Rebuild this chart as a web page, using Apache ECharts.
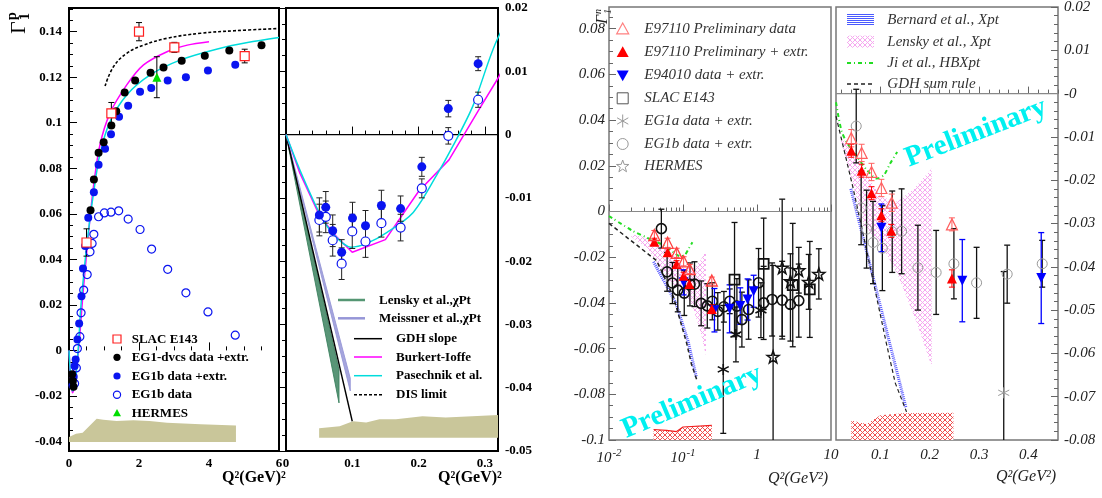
<!DOCTYPE html>
<html>
<head>
<meta charset="utf-8">
<script src="https://cdn.jsdelivr.net/npm/echarts@6.0.0/dist/echarts.min.js"></script>
<style>
html, body { margin: 0; padding: 0; background: #fff; }
#main { width: 1102px; height: 498px; }
</style>
</head>
<body>
<div id="main"></div>
<script>
// ---------- proton, Q2 0..6 (left panel) : [Q2, Gamma1] or [Q2, Gamma1, err]
var dvcsP = [[0.09,-0.0105],[0.11,-0.0135],[0.13,-0.016],[0.615,0.0616],[0.711,0.0751],[0.845,0.0868],[0.99,0.0914],[1.21,0.0988],[1.35,0.105],[1.59,0.1133],[1.89,0.1186],[2.33,0.122],[2.70,0.1243],[3.22,0.1272],[3.88,0.1294],[4.58,0.1317],[5.50,0.134]];
var eg1bExtP = [[0.1,-0.0153],[0.135,-0.0116],[0.16,-0.0069],[0.19,-0.004],[0.24,0.0048],[0.29,0.0118],[0.357,0.0238],[0.40,0.036],[0.46,0.0458],[0.55,0.0583],[0.71,0.0695],[0.845,0.0815],[1.03,0.0886],[1.2,0.0949],[1.43,0.1026],[1.69,0.1075],[2.03,0.1136],[2.35,0.1153],[2.82,0.1186],[3.34,0.12],[3.97,0.123],[4.75,0.1255]];
var eg1bP = [[0.16,-0.0146],[0.21,-0.0077],[0.24,0.0008],[0.31,0.006],[0.345,0.0165],[0.42,0.0265],[0.52,0.0333],[0.6,0.0433],[0.66,0.047],[0.71,0.051],[0.845,0.0587],[1.01,0.0604],[1.2,0.0607],[1.42,0.0613],[1.69,0.0577],[2.03,0.0531],[2.36,0.0445],[2.82,0.0356],[3.34,0.0253],[3.97,0.0169],[4.75,0.0067]];
var slacP = [[0.5,0.0474,0.006],[1.21,0.1041,0.0048],[2.0,0.14,0.004],[3.01,0.1331,0.0022],[5.02,0.1293,0.003]];
var hermesP = [[2.51,0.12,0.009]];
var burkertP = [[0,0],[0.021,-0.0061],[0.051,-0.0129],[0.076,-0.0161],[0.1,-0.0186],[0.15,-0.0166],[0.2,-0.009],[0.246,-0.004],[0.291,0.0039],[0.32,0.0089],[0.4,0.025],[0.5,0.042],[0.6,0.058],[0.7,0.072],[0.88,0.09],[1.17,0.1041],[1.65,0.1166],[2.13,0.1254],[2.8,0.1312],[3.38,0.1341],[4.0,0.1356]];
var pasechnikP = [[0,0],[0.021,-0.0056],[0.051,-0.0125],[0.071,-0.0157],[0.098,-0.0178],[0.122,-0.0172],[0.152,-0.0155],[0.192,-0.0123],[0.227,-0.0065],[0.252,-0.0018],[0.282,0.0045],[0.32,0.0153],[0.4,0.03],[0.5,0.045],[0.6,0.058],[0.7,0.069],[0.88,0.086],[1.17,0.1004],[1.65,0.1122],[2.32,0.121],[3.19,0.1276],[4.24,0.1324],[5.1,0.1352],[6.0,0.1374]];
var disP = [[1.03,0.1161],[1.27,0.1246],[1.65,0.1305],[2.13,0.1341],[2.8,0.1371],[3.76,0.1393],[4.72,0.1404],[6.0,0.1414]];
var systTopP = [[0,-0.038],[0.2,-0.0366],[0.39,-0.0362],[0.79,-0.030],[0.98,-0.0305],[1.36,-0.031],[1.84,-0.0307],[2.3,-0.031],[2.8,-0.0318],[3.76,-0.0325],[4.77,-0.033]];
var systBottomP = -0.0402;

// ---------- proton, Q2 0..0.32 (zoomed panel)
var eg1bExtLow = [[0.0504,-0.0127,0.0027],[0.06,-0.0115,0.0025],[0.0705,-0.0152,0.0025],[0.084,-0.0186,0.002],[0.1004,-0.0132,0.0025],[0.12,-0.0144,0.0024],[0.144,-0.0112,0.0024],[0.173,-0.0117,0.002],[0.205,-0.0051,0.0015],[0.245,0.0041,0.0013],[0.29,0.0112,0.0011]];
var eg1bLow = [[0.0504,-0.0135,0.0025],[0.06,-0.013,0.0025],[0.0705,-0.0167,0.0025],[0.084,-0.0204,0.0025],[0.1,-0.0153,0.0027],[0.12,-0.0169,0.0025],[0.144,-0.014,0.0022],[0.173,-0.0147,0.0021],[0.205,-0.0085,0.0015],[0.245,-0.0002,0.0013],[0.29,0.0055,0.0012]];
var gdhSlopeP = [[0,0],[0.1,-0.0453]];
var lenskyP = [[0,0],[0.08,-0.0372],[0.08,-0.0424]];
var meissnerP = [[0,0],[0.097,-0.0385],[0.097,-0.0405]];
var systTopLow = [[0.05,-0.0464],[0.081,-0.0461],[0.101,-0.0453],[0.121,-0.0455],[0.141,-0.045],[0.166,-0.045],[0.206,-0.0445],[0.241,-0.0447],[0.281,-0.0445],[0.32,-0.0443]];
var systBottomLow = -0.0479;

// ---------- neutron
var e97110Data = [[0.041,-0.0103,0.002],[0.062,-0.0137,0.002],[0.082,-0.0181,0.002],[0.102,-0.0218,0.002],[0.123,-0.0252,0.002],[0.245,-0.0302,0.0015]];
var e97110Ext = [[0.041,-0.0132,0.0015],[0.062,-0.0178,0.0015],[0.082,-0.023,0.0015],[0.102,-0.0281,0.0015],[0.122,-0.0317,0.0015],[0.245,-0.0427,0.002]];
var e94010N = [[0.102,-0.031,0.0055],[0.266,-0.0432,0.0095],[0.426,-0.0426,0.0105],[0.594,-0.0414,0.008],[0.746,-0.0385,0.009],[0.9,-0.0349,0.007]];
var eg1bN = [[0.051,-0.0075,0.0085],[0.061,-0.0264,0.0085],[0.072,-0.0313,0.009],[0.085,-0.0344,0.0095],[0.104,-0.0357,0.0098],[0.124,-0.0319,0.0094],[0.143,-0.0318,0.0098],[0.176,-0.0402,0.0098],[0.213,-0.0413,0.0097],[0.249,-0.0393,0.0081],[0.295,-0.0437,0.0082],[0.357,-0.0417,0.0067],[0.428,-0.0393,0.0054],[0.535,-0.0414,0.012],[0.625,-0.0473,0.012],[0.77,-0.0429,0.013],[1.05,-0.0312,0.015],[1.23,-0.040,0.016],[1.6,-0.0385,0.016],[2.19,-0.0388,0.017],[2.83,-0.0407,0.016],[3.67,-0.039,0.016]];
var slacN = [[0.497,-0.0298,0.025],[1.23,-0.0229,0.02],[3.04,-0.0322,0.027],[5.17,-0.0341,0.021]];
var eg1aN = [[0.35,-0.0691,0.028],[0.519,-0.0538,0.012],[1.13,-0.0432,0.012]];
var hermesN = [[1.65,-0.0636,0.04],[2.19,-0.0246,0.03],[2.83,-0.0305,0.012],[3.67,-0.0257,0.01],[5.0,-0.0308,0.012],[6.85,-0.0273,0.011]];
var gdhN = [[0.01,-0.0052],[0.044,-0.0215],[0.074,-0.0372],[0.112,-0.0576],[0.13,-0.0668],[0.153,-0.0735]];
var jiN = [[0.01,-0.002],[0.021,-0.0085],[0.033,-0.0115],[0.053,-0.0146],[0.073,-0.0177],[0.093,-0.0196],[0.107,-0.0188],[0.12,-0.0161],[0.134,-0.0135]];
var bernardN = [[0.04,-0.022],[0.08,-0.04],[0.117,-0.0568],[0.152,-0.0726]];
var lenskyN = [[0.02,-0.010],[0.033,-0.0115],[0.067,-0.0176],[0.1,-0.0238],[0.134,-0.025],[0.168,-0.022],[0.204,-0.0173],[0.204,-0.063],[0.174,-0.053],[0.134,-0.0415],[0.1,-0.0346],[0.067,-0.0307],[0.033,-0.016],[0.02,-0.011]];
var systTopNlog = [[0.04,-0.0954],[0.06,-0.0958],[0.082,-0.0963],[0.1,-0.0943],[0.245,-0.0936]];
var systTopNlin = [[0.041,-0.0755],[0.072,-0.0763],[0.1,-0.0743],[0.145,-0.0738],[0.248,-0.0737]];

// tick positions
function ticks(a, b, s) {
  var out = [];
  for (var i = 0; a + i * s <= b + s / 1000; i++) out.push(+(a + i * s).toFixed(6));
  return out;
}
var logMinor = [];
[0.01, 0.1, 1].forEach(function (d) { for (var k = 1; k < 10; k++) logMinor.push(+(d * k).toPrecision(3)); });
logMinor.push(10);

var boldFont = { fontFamily: 'Liberation Serif', fontWeight: 'bold', fontSize: 13, color: '#000' };
var itFont = { fontFamily: 'Liberation Serif', fontStyle: 'italic', fontSize: 15, color: '#222' };

var xAxes = [], yAxes = [];
function addAxis(list, o) {
  var base = { gridIndex: o.grid, type: o.type || 'value', min: o.min, max: o.max, position: o.pos,
    splitLine: { show: false }, axisLine: { show: false }, axisPointer: { show: false } };
  if (o.type === 'log') base.logBase = 10;
  list.push(Object.assign({}, base, {
    axisTick: { show: true, inside: true, length: o.len, customValues: o.major, lineStyle: { color: o.color, width: 1 } },
    axisLabel: Object.assign({ show: true, customValues: o.major, formatter: o.fmt, margin: o.margin, rich: o.rich }, o.font)
  }));
  list.push(Object.assign({}, base, {
    axisTick: { show: true, inside: true, length: o.minorLen, customValues: o.minor, lineStyle: { color: o.color, width: 1 } },
    axisLabel: { show: false }
  }));
}
function plain(v) { return String(+v.toFixed(4)); }

// grid 0
addAxis(xAxes, { grid: 0, min: 0, max: 6, pos: 'bottom', major: [0, 2, 4, 6], minor: ticks(0, 6, 0.5), len: 8, minorLen: 4, color: '#000', margin: 6, font: boldFont, fmt: plain });
addAxis(yAxes, { grid: 0, min: -0.0442, max: 0.1504, pos: 'left', major: ticks(-0.04, 0.14, 0.02), minor: ticks(-0.04, 0.15, 0.005), len: 8, minorLen: 4, color: '#000', margin: 7, font: boldFont, fmt: plain });
// grid 1
addAxis(xAxes, { grid: 1, min: 0, max: 0.32, pos: 'bottom', major: [0, 0.1, 0.2, 0.3], minor: ticks(0, 0.32, 0.02), len: 8, minorLen: 4, color: '#000', margin: 6, font: boldFont, fmt: plain });
addAxis(yAxes, { grid: 1, min: -0.05, max: 0.02, pos: 'right', major: ticks(-0.05, 0.02, 0.01), minor: ticks(-0.05, 0.02, 0.0025), len: 8, minorLen: 4, color: '#000', margin: 7, font: boldFont, fmt: plain });
// grid 2 (log)
addAxis(xAxes, { grid: 2, type: 'log', min: 0.01, max: 10, pos: 'bottom', major: [0.01, 0.1, 1, 10], minor: logMinor, len: 7, minorLen: 4, color: '#666', margin: 8, font: itFont,
  rich: { s: { fontFamily: 'Liberation Serif', fontStyle: 'italic', fontSize: 11, color: '#222', padding: [0, 0, 10, 1] } },
  fmt: function (v) { var e = Math.round(Math.log10(v)); return e < 0 ? '10{s|' + e + '}' : (e === 0 ? '1' : '10'); } });
addAxis(yAxes, { grid: 2, min: -0.1, max: 0.0895, pos: 'left', major: ticks(-0.1, 0.08, 0.02), minor: ticks(-0.1, 0.085, 0.005), len: 7, minorLen: 4, color: '#666', margin: 4, font: itFont, fmt: plain });
// grid 3
addAxis(xAxes, { grid: 3, min: 0.01, max: 0.46, pos: 'bottom', major: [0.1, 0.2, 0.3, 0.4], minor: ticks(0.02, 0.46, 0.02), len: 7, minorLen: 4, color: '#666', margin: 8, font: itFont, fmt: plain });
addAxis(yAxes, { grid: 3, min: -0.08, max: 0.02, pos: 'right', major: ticks(-0.08, 0.02, 0.01), minor: ticks(-0.08, 0.02, 0.002), len: 7, minorLen: 4, color: '#666', margin: 6, font: itFont,
  fmt: function (v) { return Math.abs(v) < 1e-9 ? '-0' : plain(v); } });

// ---------- series helpers
function xy(pts) { return pts.map(function (p) { return [p[0], p[1]]; }); }
function sc(ai, pts, sym, size, fill, stroke, bw, rot, z) {
  return { type: 'scatter', xAxisIndex: ai, yAxisIndex: ai, data: xy(pts), symbol: sym, symbolSize: size, symbolRotate: rot || 0,
    itemStyle: { color: fill, borderColor: stroke, borderWidth: bw, opacity: 1 }, z: z || 6, silent: true, clip: true };
}
function eb(ai, pts, color, cap, w) {
  return { type: 'custom', xAxisIndex: ai, yAxisIndex: ai, data: pts, clip: true, silent: true, z: 5,
    renderItem: function (params, api) {
      var x = api.value(0), y = api.value(1), e = api.value(2);
      var a = api.coord([x, y + e]), b = api.coord([x, y - e]);
      var st = { stroke: color, lineWidth: w };
      return { type: 'group', children: [
        { type: 'line', shape: { x1: a[0], y1: a[1], x2: b[0], y2: b[1] }, style: st },
        { type: 'line', shape: { x1: a[0] - cap, y1: a[1], x2: a[0] + cap, y2: a[1] }, style: st },
        { type: 'line', shape: { x1: b[0] - cap, y1: b[1], x2: b[0] + cap, y2: b[1] }, style: st }
      ] };
    } };
}
function poly(ai, pts, fill, stroke, z) {
  return { type: 'custom', xAxisIndex: ai, yAxisIndex: ai, data: [[pts[0][0], pts[0][1]]], clip: true, silent: true, z: z || 1,
    renderItem: function (params, api) {
      return { type: 'polygon', shape: { points: pts.map(function (p) { return api.coord(p); }) },
        style: { fill: fill, stroke: stroke || 'none', lineWidth: 1 } };
    } };
}
function band(top, bottom) {
  return top.concat([[top[top.length - 1][0], bottom], [top[0][0], bottom]]);
}
function ln(ai, pts, color, width, type, smooth, z) {
  return { type: 'line', xAxisIndex: ai, yAxisIndex: ai, data: pts, showSymbol: false, symbol: 'none', smooth: smooth || false,
    lineStyle: { color: color, width: width, type: type || 'solid' }, z: z || 3, silent: true, clip: true };
}
function hatch(color, size, cross) {
  var c = document.createElement('canvas'); c.width = c.height = size;
  var g = c.getContext('2d');
  g.fillStyle = '#fff'; g.fillRect(0, 0, size, size);
  g.strokeStyle = color; g.lineWidth = 1;
  g.beginPath(); g.moveTo(0, 0); g.lineTo(size, size);
  if (cross) { g.moveTo(size, 0); g.lineTo(0, size); }
  g.stroke();
  return { image: c, repeat: 'repeat' };
}
function hlines(color) {
  var c = document.createElement('canvas'); c.width = 2; c.height = 2;
  var g = c.getContext('2d');
  g.fillStyle = '#fff'; g.fillRect(0, 0, 2, 2);
  g.fillStyle = color; g.fillRect(0, 0, 2, 1);
  return { image: c, repeat: 'repeat' };
}
var pinkHatch = hatch('#f5a8ef', 5, true);
var redHatch = hatch('#f05050', 5, true);

var STAR = 'path://M0,-10L2.35,-3.24L9.51,-3.09L3.8,1.24L5.88,8.09L0,4L-5.88,8.09L-3.8,1.24L-9.51,-3.09L-2.35,-3.24Z';
var ASTER = 'path://M0,-10L0,10M-8.66,-5L8.66,5M-8.66,5L8.66,-5';

var MAG = '#ff00ff', CYA = '#00dcdc', BLUE = '#0a14f0', OLIVE = '#c9c69a';
var series = [];
// ---- grid 0
series.push(poly(0, band(systTopP, systBottomP), OLIVE));
series.push(ln(0, burkertP, MAG, 1.5, 'solid', 0.3));
series.push(ln(0, pasechnikP, CYA, 1.5, 'solid', 0.3));
series.push(ln(0, disP, '#000', 1.6, [3, 2], 0.4));
series.push(eb(0, slacP, '#000', 3, 1));
series.push(eb(0, hermesP, '#000', 3, 1));
series.push(sc(0, eg1bP, 'circle', 8, 'rgba(0,0,0,0)', BLUE, 1.2));
series.push(sc(0, eg1bExtP, 'circle', 8, BLUE, BLUE, 0));
series.push(sc(0, dvcsP, 'circle', 8, '#000', '#000', 0));
series.push(sc(0, slacP, 'rect', 9, '#fff', '#ff2020', 1.2));
series.push(sc(0, hermesP, 'triangle', 9, '#00dd00', '#00dd00', 0));
// ---- grid 1
series.push(poly(2, band(systTopLow, systBottomLow), OLIVE));
series.push(ln(2, [[0, 0], [0.32, 0]], '#000', 1.2));
series.push(poly(2, lenskyP, 'rgba(60,130,95,0.85)', 'rgba(60,130,95,0.9)', 2));
series.push(poly(2, meissnerP, 'rgba(150,150,215,0.85)', 'rgba(150,150,215,0.9)', 2));
series.push(ln(2, gdhSlopeP, '#000', 1.4));
series.push(ln(2, burkertP, MAG, 1.5));
series.push(ln(2, pasechnikP, CYA, 1.5, 'solid', 0.3));
series.push(eb(2, eg1bExtLow, '#222', 3, 1));
series.push(eb(2, eg1bLow, '#222', 3, 1));
series.push(sc(2, eg1bLow, 'circle', 9, '#fff', BLUE, 1.2));
series.push(sc(2, eg1bExtLow, 'circle', 9, BLUE, BLUE, 0));
// ---- grid 2 (log)
series.push(poly(4, band(systTopNlog, -0.1), redHatch));
series.push(ln(4, systTopNlog, '#f02020', 1.2));
series.push(ln(4, [[0.01, 0], [10, 0]], '#888', 1.2));
series.push(poly(4, lenskyN, pinkHatch, 'none', 1));
series.push(ln(4, bernardN, '#5a5aff', 3, [1, 1]));
series.push(ln(4, gdhN, '#222', 1.5, [4, 3]));
series.push(ln(4, jiN, '#22dd22', 2, [4, 3, 1, 3], 0.3));
series.push(eb(4, eg1bN, '#111', 3, 1.3));
series.push(eb(4, slacN, '#111', 3, 1.3));
series.push(eb(4, eg1aN, '#111', 3, 1.3));
series.push(eb(4, hermesN, '#111', 3, 1.3));
series.push(eb(4, e94010N, '#0000ff', 3, 1.3));
series.push(eb(4, e97110Data, '#ff5050', 3, 1));
series.push(eb(4, e97110Ext, '#ff0000', 3, 1));
series.push(sc(4, eg1bN, 'circle', 10, 'rgba(0,0,0,0)', '#111', 1.6));
series.push(sc(4, slacN, 'rect', 10, 'rgba(0,0,0,0)', '#111', 1.8));
series.push(sc(4, eg1aN, ASTER, 11, 'rgba(0,0,0,0)', '#111', 1.6));
series.push(sc(4, hermesN, STAR, 12, 'rgba(0,0,0,0)', '#111', 1.5));
series.push(sc(4, e94010N, 'triangle', 10, '#0000ff', '#0000ff', 0, 180));
series.push(sc(4, e97110Ext, 'triangle', 10, '#ff0000', '#ff0000', 0));
series.push(sc(4, e97110Data, 'triangle', 11, 'rgba(0,0,0,0)', '#ff4040', 1.3));
// ---- grid 3
series.push(poly(6, band(systTopNlin, -0.08), redHatch));
series.push(ln(6, [[0.01, 0], [0.46, 0]], '#888', 1.2));
series.push(poly(6, lenskyN, pinkHatch, 'none', 1));
series.push(ln(6, bernardN, '#5a5aff', 3, [1, 1]));
series.push(ln(6, gdhN, '#222', 1.2, [4, 3]));
series.push(ln(6, jiN, '#22dd22', 2, [4, 3, 1, 3], 0.3));
series.push(eb(6, eg1bN, '#111', 3, 1.3));
series.push(eb(6, eg1aN, '#111', 3, 1.3));
series.push(eb(6, e94010N, '#0000ff', 3, 1.3));
series.push(eb(6, e97110Data, '#ff6060', 3, 1));
series.push(eb(6, e97110Ext, '#ff0000', 3, 1));
series.push(sc(6, eg1bN, 'circle', 10, 'rgba(0,0,0,0)', '#999', 1));
series.push(sc(6, eg1aN, ASTER, 11, 'rgba(0,0,0,0)', '#999', 1));
series.push(sc(6, e94010N, 'triangle', 10, '#0000ff', '#0000ff', 0, 180));
series.push(sc(6, e97110Ext, 'triangle', 10, '#ff0000', '#ff0000', 0));
series.push(sc(6, e97110Data, 'triangle', 11, 'rgba(0,0,0,0)', '#ff6060', 1.2));

// ---------- legends and labels (graphic)
var G = [];
function txt(x, y, s, font, fill, align, rot) {
  G.push({ type: 'text', x: x, y: y, rotation: rot || 0, silent: true, z: 20,
    style: { text: s, font: font, fill: fill || '#000', align: align || 'left', verticalAlign: 'middle' } });
}
function seg(x1, y1, x2, y2, color, w, dash) {
  G.push({ type: 'line', silent: true, z: 20, shape: { x1: x1, y1: y1, x2: x2, y2: y2 }, style: { stroke: color, lineWidth: w, lineDash: dash || null } });
}
function tri(cx, cy, r, fill, stroke, down) {
  var s = down ? -1 : 1;
  G.push({ type: 'polygon', silent: true, z: 20, shape: { points: [[cx, cy - s * r], [cx + r, cy + s * r * 0.8], [cx - r, cy + s * r * 0.8]] },
    style: { fill: fill, stroke: stroke, lineWidth: 1.2 } });
}
function circ(cx, cy, r, fill, stroke, w) {
  G.push({ type: 'circle', silent: true, z: 20, shape: { cx: cx, cy: cy, r: r }, style: { fill: fill, stroke: stroke, lineWidth: w || 1 } });
}
function box(x, y, w, h, fill, stroke, lw) {
  G.push({ type: 'rect', silent: true, z: 20, shape: { x: x, y: y, width: w, height: h }, style: { fill: fill, stroke: stroke, lineWidth: lw || 1 } });
}
function starG(cx, cy, r, stroke) {
  var p = [];
  for (var k = 0; k < 10; k++) {
    var a = -Math.PI / 2 + k * Math.PI / 5, rr = k % 2 ? r * 0.4 : r;
    p.push([cx + rr * Math.cos(a), cy + rr * Math.sin(a)]);
  }
  G.push({ type: 'polygon', silent: true, z: 20, shape: { points: p }, style: { fill: 'none', stroke: stroke, lineWidth: 1 } });
}

var LB = 'bold 13px "Liberation Serif"';
// legend, proton full range
box(113, 335, 8, 8, '#fff', '#ff2020', 1.2); txt(131.7, 339.5, 'SLAC E143', LB);
circ(117, 357.3, 3.6, '#000', 'none'); txt(131.7, 357.5, 'EG1-dvcs data +extr.', LB);
circ(117, 376, 3.6, BLUE, 'none'); txt(131.7, 376.2, 'EG1b data +extr.', LB);
circ(117, 394.7, 3.6, 'none', BLUE, 1.2); txt(131.7, 395, 'EG1b data', LB);
tri(117, 413, 4, '#00dd00', 'none'); txt(131.7, 413.2, 'HERMES', LB);
// legend, proton low Q2
seg(338, 300, 365, 300, 'rgb(85,150,115)', 2.5); txt(379, 300.5, 'Lensky et al.,\u03c7Pt', LB);
seg(338, 318.3, 365, 318.3, 'rgb(150,150,215)', 2.5); txt(379, 318.8, 'Meissner et al.,\u03c7Pt', LB);
seg(354, 338.7, 382, 338.7, '#000', 1.5); txt(396, 339, 'GDH slope', LB);
seg(354, 357, 382, 357, MAG, 1.5); txt(396, 357.3, 'Burkert-Ioffe', LB);
seg(354, 375.7, 382, 375.7, CYA, 1.5); txt(396, 376, 'Pasechnik et al.', LB);
seg(354, 394.7, 382, 394.7, '#000', 1.5, [3, 2]); txt(396, 395, 'DIS limit', LB);

var LI = 'italic 15px "Liberation Serif"';
var lx = 622.7, tx = 644.3;
tri(lx, 29, 6, 'none', '#ff8080'); txt(tx, 29, 'E97110 Preliminary data', LI, '#333');
tri(lx, 52.3, 6, '#ff0000', 'none'); txt(tx, 52.3, 'E97110 Preliminary + extr.', LI, '#333');
tri(lx, 75.3, 6, '#0000ff', 'none', true); txt(tx, 75.3, 'E94010 data + extr.', LI, '#333');
box(lx - 5.5, 98.3 - 5.5, 11, 11, 'none', '#555', 1); txt(tx, 98.3, 'SLAC E143', LI, '#333');
seg(lx, 121 - 6.5, lx, 121 + 6.5, '#999', 1); seg(lx - 5.6, 121 - 3.2, lx + 5.6, 121 + 3.2, '#999', 1); seg(lx - 5.6, 121 + 3.2, lx + 5.6, 121 - 3.2, '#999', 1);
txt(tx, 121, 'EG1a data + extr.', LI, '#333');
circ(lx, 144, 5.5, 'none', '#999', 1); txt(tx, 144, 'EG1b data + extr.', LI, '#333');
starG(lx, 166.5, 6.5, '#999'); txt(tx, 166, 'HERMES', LI, '#333');

box(847, 13.7, 27, 12, hlines('#4a5aff'), 'none'); txt(887.3, 19.7, 'Bernard et al., Xpt', LI, '#333');
box(847, 35.7, 27, 12, pinkHatch, 'none'); txt(887.3, 41.7, 'Lensky et al., Xpt', LI, '#333');
seg(847, 63, 874, 63, '#22dd22', 2, [4, 3, 1, 3]); txt(887.3, 63, 'Ji et al., HBXpt', LI, '#333');
seg(847, 84, 874, 84, '#222', 1.5, [4, 3]); txt(887.3, 84, 'GDH sum rule', LI, '#333');

// preliminary stamps
txt(692, 402, 'Preliminary', 'bold 29px "Liberation Serif"', '#00f0f0', 'center', 23 * Math.PI / 180);
txt(976, 133, 'Preliminary', 'bold 29px "Liberation Serif"', '#00f0f0', 'center', 21 * Math.PI / 180);

// axis titles
txt(254, 478, 'Q\u00b2(GeV)\u00b2', 'bold 16px "Liberation Serif"', '#000', 'center');
txt(470, 478, 'Q\u00b2(GeV)\u00b2', 'bold 16px "Liberation Serif"', '#000', 'center');
txt(798, 479, 'Q\u00b2(GeV\u00b2)', 'italic 16px "Liberation Serif"', '#222', 'center');
txt(1026, 477, 'Q\u00b2(GeV\u00b2)', 'italic 16px "Liberation Serif"', '#222', 'center');
// gamma titles, rotated
G.push({ type: 'group', x: 30, y: 34, rotation: Math.PI / 2, silent: true, children: [
  { type: 'text', x: 0, y: 0, style: { text: '\u0393', font: '22px "Liberation Serif"', fill: '#000', align: 'left', verticalAlign: 'bottom' } },
  { type: 'text', x: 14, y: -11, style: { text: 'p', font: 'bold 14px "Liberation Serif"', fill: '#000', align: 'left', verticalAlign: 'bottom' } },
  { type: 'text', x: 14, y: 2, style: { text: '1', font: 'bold 14px "Liberation Serif"', fill: '#000', align: 'left', verticalAlign: 'bottom' } }
] });
G.push({ type: 'group', x: 611, y: 24, rotation: Math.PI / 2, silent: true, children: [
  { type: 'text', x: 0, y: 0, style: { text: '\u0393', font: 'italic 16px "Liberation Serif"', fill: '#222', align: 'left', verticalAlign: 'bottom' } },
  { type: 'text', x: 10, y: -8, style: { text: 'n', font: 'italic 10px "Liberation Serif"', fill: '#222', align: 'left', verticalAlign: 'bottom' } },
  { type: 'text', x: 10, y: 2, style: { text: '1', font: 'italic 10px "Liberation Serif"', fill: '#222', align: 'left', verticalAlign: 'bottom' } }
] });

var grids = [
  { left: 69, top: 8, width: 210, height: 443, show: true, borderColor: '#000', borderWidth: 2, backgroundColor: 'transparent', outerBoundsMode: 'none' },
  { left: 286, top: 8, width: 212, height: 443, show: true, borderColor: '#000', borderWidth: 2, backgroundColor: 'transparent', outerBoundsMode: 'none' },
  { left: 609, top: 7, width: 222, height: 433, show: true, borderColor: '#777', borderWidth: 1.5, backgroundColor: 'transparent', outerBoundsMode: 'none' },
  { left: 836, top: 7, width: 222, height: 433, show: true, borderColor: '#777', borderWidth: 1.5, backgroundColor: 'transparent', outerBoundsMode: 'none' }
];

var chart = echarts.init(document.getElementById('main'), null, { renderer: 'canvas' });
chart.setOption({
  animation: false,
  backgroundColor: '#fff',
  grid: grids,
  xAxis: xAxes,
  yAxis: yAxes,
  series: series,
  graphic: G
});
</script>
</body>
</html>
